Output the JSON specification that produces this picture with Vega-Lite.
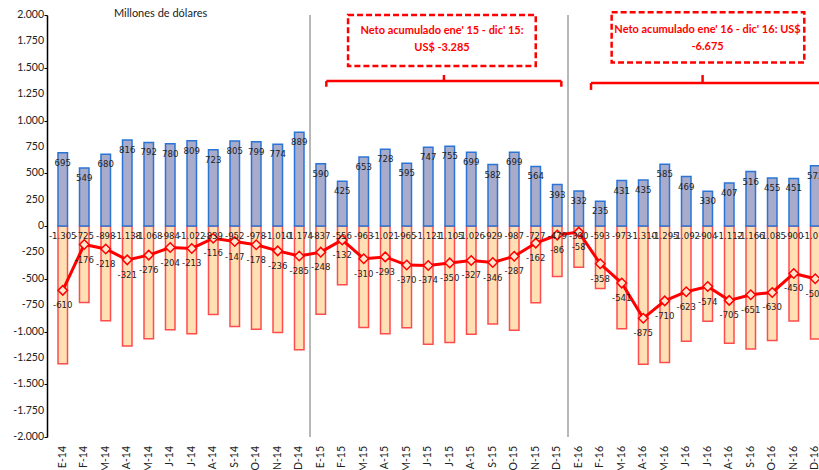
{
  "$schema": "https://vega.github.io/schema/vega-lite/v6.json",
  "autosize": {"type": "none"},
  "width": 772,
  "height": 422,
  "padding": {"left": 47, "top": 15, "right": 0, "bottom": 33},
  "background": "white",
  "config": {
    "locale": {"number": {"decimal": ",", "thousands": ".", "grouping": [3], "currency": ["US$", ""], "minus": "-"}},
    "view": {"stroke": null},
    "font": "Lato"
  },
  "datasets": {
    "m": [
      {"i": 1, "mes": "E-14", "pos": 695, "neg": -1305, "net": -610},
      {"i": 2, "mes": "F-14", "pos": 549, "neg": -725, "net": -176},
      {"i": 3, "mes": "M-14", "pos": 680, "neg": -898, "net": -218},
      {"i": 4, "mes": "A-14", "pos": 816, "neg": -1138, "net": -321},
      {"i": 5, "mes": "M-14", "pos": 792, "neg": -1068, "net": -276},
      {"i": 6, "mes": "J-14", "pos": 780, "neg": -984, "net": -204},
      {"i": 7, "mes": "J-14", "pos": 809, "neg": -1022, "net": -213},
      {"i": 8, "mes": "A-14", "pos": 723, "neg": -839, "net": -116},
      {"i": 9, "mes": "S-14", "pos": 805, "neg": -952, "net": -147},
      {"i": 10, "mes": "O-14", "pos": 799, "neg": -978, "net": -178},
      {"i": 11, "mes": "N-14", "pos": 774, "neg": -1010, "net": -236},
      {"i": 12, "mes": "D-14", "pos": 889, "neg": -1174, "net": -285},
      {"i": 13, "mes": "E-15", "pos": 590, "neg": -837, "net": -248},
      {"i": 14, "mes": "F-15", "pos": 425, "neg": -556, "net": -132},
      {"i": 15, "mes": "M-15", "pos": 653, "neg": -963, "net": -310},
      {"i": 16, "mes": "A-15", "pos": 728, "neg": -1021, "net": -293},
      {"i": 17, "mes": "M-15", "pos": 595, "neg": -965, "net": -370},
      {"i": 18, "mes": "J-15", "pos": 747, "neg": -1121, "net": -374},
      {"i": 19, "mes": "J-15", "pos": 755, "neg": -1105, "net": -350},
      {"i": 20, "mes": "A-15", "pos": 699, "neg": -1026, "net": -327},
      {"i": 21, "mes": "S-15", "pos": 582, "neg": -929, "net": -346},
      {"i": 22, "mes": "O-15", "pos": 699, "neg": -987, "net": -287},
      {"i": 23, "mes": "N-15", "pos": 564, "neg": -727, "net": -162},
      {"i": 24, "mes": "D-15", "pos": 393, "neg": -479, "net": -86},
      {"i": 25, "mes": "E-16", "pos": 332, "neg": -390, "net": -58},
      {"i": 26, "mes": "F-16", "pos": 235, "neg": -593, "net": -358},
      {"i": 27, "mes": "M-16", "pos": 431, "neg": -973, "net": -541},
      {"i": 28, "mes": "A-16", "pos": 435, "neg": -1310, "net": -875},
      {"i": 29, "mes": "M-16", "pos": 585, "neg": -1295, "net": -710},
      {"i": 30, "mes": "J-16", "pos": 469, "neg": -1092, "net": -623},
      {"i": 31, "mes": "J-16", "pos": 330, "neg": -904, "net": -574},
      {"i": 32, "mes": "A-16", "pos": 407, "neg": -1112, "net": -705},
      {"i": 33, "mes": "S-16", "pos": 516, "neg": -1166, "net": -651},
      {"i": 34, "mes": "O-16", "pos": 455, "neg": -1085, "net": -630},
      {"i": 35, "mes": "N-16", "pos": 451, "neg": -900, "net": -450},
      {"i": 36, "mes": "D-16", "pos": 572, "neg": -1072, "net": -500}
    ],
    "yt": [
      {"v": -2000}, {"v": -1750}, {"v": -1500}, {"v": -1250}, {"v": -1000}, {"v": -750}, {"v": -500}, {"v": -250}, {"v": 0},
      {"v": 250}, {"v": 500}, {"v": 750}, {"v": 1000}, {"v": 1250}, {"v": 1500}, {"v": 1750}, {"v": 2000}
    ],
    "sep": [{"i": 12.5}, {"i": 24.5}],
    "boxes": [
      {"x1": 14.27, "x2": 23.0, "y1": 2000, "y2": 1517},
      {"x1": 26.53, "x2": 35.49, "y1": 2025, "y2": 1550}
    ],
    "notes": [
      {"i": 18.64, "y": 1848, "t": "Neto acumulado ene' 15 - dic' 15:"},
      {"i": 18.64, "y": 1687, "t": "US$ -3.285"},
      {"i": 30.99, "y": 1858, "t": "Neto acumulado ene' 16 - dic' 16: US$"},
      {"i": 30.99, "y": 1700, "t": "-6.675"}
    ],
    "brace": [
      {"x1": 13.26, "x2": 24.19, "y1": 1374, "y2": 1374},
      {"x1": 13.26, "x2": 13.26, "y1": 1374, "y2": 1320},
      {"x1": 24.19, "x2": 24.19, "y1": 1374, "y2": 1320},
      {"x1": 18.73, "x2": 18.73, "y1": 1374, "y2": 1431},
      {"x1": 25.57, "x2": 37.5, "y1": 1355, "y2": 1355},
      {"x1": 25.57, "x2": 25.57, "y1": 1355, "y2": 1290},
      {"x1": 30.76, "x2": 30.76, "y1": 1355, "y2": 1431}
    ],
    "ttl": [{"i": 5.55, "y": 2010, "t": "Millones de dólares"}]
  },
  "layer": [
    {
      "data": {"name": "sep"},
      "mark": {"type": "rule", "color": "#A0A0A0", "strokeWidth": 1.5},
      "encoding": {
        "x": {
          "field": "i", "type": "quantitative",
          "scale": {"domain": [0.5, 36.5], "range": [0, 784], "nice": false, "zero": false},
          "axis": null
        },
        "y": {
          "datum": 2000, "type": "quantitative",
          "scale": {"domain": [-2000, 2000], "nice": false, "zero": false},
          "axis": {
            "title": null, "grid": false, "labels": false,
            "values": [-2000, -1750, -1500, -1250, -1000, -750, -500, -250, 0, 250, 500, 750, 1000, 1250, 1500, 1750, 2000],
            "domainColor": "#000", "domainWidth": 1.5, "tickColor": "#000", "tickSize": 3
          }
        },
        "y2": {"datum": -2000}
      }
    },
    {
      "data": {"name": "yt"},
      "mark": {"type": "text", "align": "right", "baseline": "middle", "dx": -8, "fontSize": 10.5, "font": "Lato", "color": "#222"},
      "encoding": {
        "x": {"datum": 0.5, "type": "quantitative"},
        "y": {"field": "v", "type": "quantitative"},
        "text": {"field": "v", "type": "quantitative", "format": ",d"}
      }
    },
    {
      "data": {"name": "m"},
      "mark": {"type": "text", "angle": 270, "align": "right", "baseline": "middle", "dx": -9, "fontSize": 10.5, "font": "Lato", "color": "#222"},
      "encoding": {
        "x": {"field": "i", "type": "quantitative"},
        "y": {"datum": -2000, "type": "quantitative"},
        "text": {"field": "mes"}
      }
    },
    {
      "data": {"name": "m"},
      "mark": {"type": "bar", "size": 9.5, "fill": "#FFE0B5", "stroke": "#FF4B4B", "strokeWidth": 1.5},
      "encoding": {
        "x": {"field": "i", "type": "quantitative"},
        "y": {"field": "neg", "type": "quantitative"}
      }
    },
    {
      "data": {"name": "m"},
      "mark": {"type": "bar", "size": 9.5, "fill": "#A9ABCB", "stroke": "#2A74D6", "strokeWidth": 1.5},
      "encoding": {
        "x": {"field": "i", "type": "quantitative"},
        "y": {"field": "pos", "type": "quantitative"}
      }
    },
    {
      "mark": {"type": "rule", "color": "#000", "strokeWidth": 1.5},
      "encoding": {"y": {"datum": 0, "type": "quantitative"}}
    },
    {
      "data": {"name": "m"},
      "mark": {"type": "line", "color": "#FF0000", "strokeWidth": 3},
      "encoding": {
        "x": {"field": "i", "type": "quantitative"},
        "y": {"field": "net", "type": "quantitative"}
      }
    },
    {
      "data": {"name": "m"},
      "mark": {"type": "point", "shape": "diamond", "size": 90, "filled": true, "fill": "#FFE6CF", "stroke": "#FF0000", "strokeWidth": 1.5, "opacity": 1},
      "encoding": {
        "x": {"field": "i", "type": "quantitative"},
        "y": {"field": "net", "type": "quantitative"}
      }
    },
    {
      "data": {"name": "m"},
      "mark": {"type": "text", "dy": 10, "fontSize": 9.5, "font": "Liberation Sans Narrow, DejaVu Sans Condensed, Lato", "color": "#222"},
      "encoding": {
        "x": {"field": "i", "type": "quantitative"},
        "y": {"field": "pos", "type": "quantitative"},
        "text": {"field": "pos", "type": "quantitative", "format": ",d"}
      }
    },
    {
      "data": {"name": "m"},
      "mark": {"type": "text", "dy": 10, "fontSize": 9.5, "font": "Liberation Sans Narrow, DejaVu Sans Condensed, Lato", "color": "#222"},
      "encoding": {
        "x": {"field": "i", "type": "quantitative"},
        "y": {"datum": 0, "type": "quantitative"},
        "text": {"field": "neg", "type": "quantitative", "format": ",d"}
      }
    },
    {
      "data": {"name": "m"},
      "mark": {"type": "text", "dy": 15, "fontSize": 9.5, "font": "Liberation Sans Narrow, DejaVu Sans Condensed, Lato", "color": "#222"},
      "encoding": {
        "x": {"field": "i", "type": "quantitative"},
        "y": {"field": "net", "type": "quantitative"},
        "text": {"field": "net", "type": "quantitative", "format": ",d"}
      }
    },
    {
      "data": {"name": "boxes"},
      "mark": {"type": "rect", "fill": "white", "stroke": "#FF0000", "strokeWidth": 2.5, "strokeDash": [6, 3]},
      "encoding": {
        "x": {"field": "x1", "type": "quantitative"},
        "x2": {"field": "x2"},
        "y": {"field": "y1", "type": "quantitative"},
        "y2": {"field": "y2"}
      }
    },
    {
      "data": {"name": "brace"},
      "mark": {"type": "rule", "color": "#FF0000", "strokeWidth": 2.5},
      "encoding": {
        "x": {"field": "x1", "type": "quantitative"},
        "x2": {"field": "x2"},
        "y": {"field": "y1", "type": "quantitative"},
        "y2": {"field": "y2"}
      }
    },
    {
      "data": {"name": "notes"},
      "mark": {"type": "text", "color": "#FF0000", "fontWeight": "bold", "fontSize": 11, "font": "Lato", "baseline": "middle"},
      "encoding": {
        "x": {"field": "i", "type": "quantitative"},
        "y": {"field": "y", "type": "quantitative"},
        "text": {"field": "t"}
      }
    },
    {
      "data": {"name": "ttl"},
      "mark": {"type": "text", "color": "#222", "fontSize": 11, "font": "Lato", "baseline": "middle"},
      "encoding": {
        "x": {"field": "i", "type": "quantitative"},
        "y": {"field": "y", "type": "quantitative"},
        "text": {"field": "t"}
      }
    }
  ]
}
